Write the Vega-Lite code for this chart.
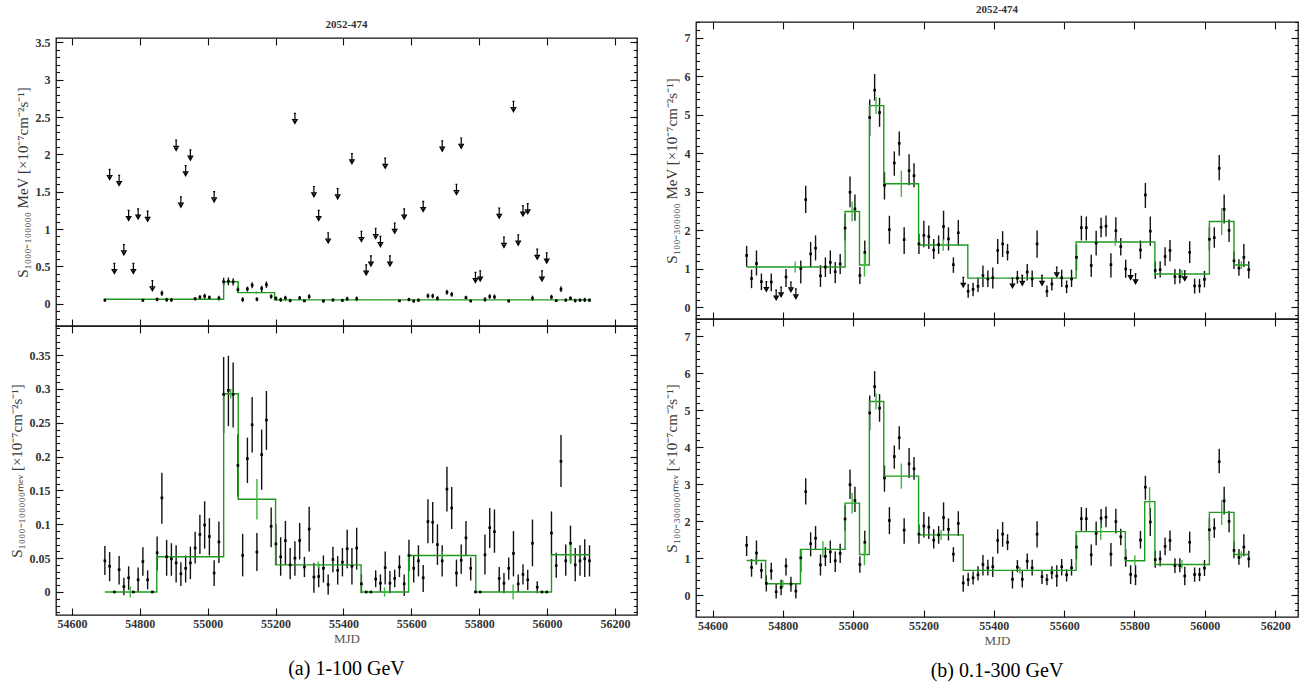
{
  "$schema": "https://vega.github.io/schema/vega-lite/v6.json",
  "background": "white",
  "padding": {"left": 8, "top": 3, "right": 4, "bottom": 4},
  "config": {
    "view": {"stroke": "#111", "strokeWidth": 1.3},
    "font": "Liberation Serif",
    "axis": {"grid": false, "domain": false, "tickColor": "#111", "tickWidth": 1.1,
             "labelFont": "Liberation Serif", "labelFontSize": 12, "labelFontWeight": "bold", "labelColor": "#333",
             "titleFont": "Liberation Serif", "titleFontWeight": "normal", "titleColor": "#3a3a3a", "titleFontSize": 15},
    "title": {"font": "Liberation Serif"}
  },
  "datasets": {
    "a1": [
      {"t":54697,"v":0.046,"lo":0.025,"hi":0.068},{"t":54711,"ul":1.80},{"t":54725,"ul":0.54},{"t":54739,"ul":1.72},
      {"t":54753,"ul":0.79},{"t":54767,"ul":1.25},{"t":54781,"ul":0.54},{"t":54795,"ul":1.27},
      {"t":54809,"v":0.045,"lo":0.024,"hi":0.066},{"t":54823,"ul":1.24},{"t":54837,"ul":0.31},
      {"t":54851,"v":0.058,"lo":0.032,"hi":0.082},{"t":54865,"v":0.139,"lo":0.101,"hi":0.176},
      {"t":54879,"v":0.052,"lo":0.024,"hi":0.077},{"t":54893,"v":0.049,"lo":0.024,"hi":0.072},
      {"t":54907,"ul":2.19},{"t":54921,"ul":1.43},{"t":54935,"ul":1.85},{"t":54949,"ul":2.06},
      {"t":54963,"v":0.065,"lo":0.042,"hi":0.089},{"t":54977,"v":0.085,"lo":0.056,"hi":0.114},
      {"t":54991,"v":0.099,"lo":0.064,"hi":0.134},{"t":55005,"v":0.082,"lo":0.054,"hi":0.109},
      {"t":55019,"ul":1.50},{"t":55033,"v":0.074,"lo":0.043,"hi":0.104},
      {"t":55047,"v":0.292,"lo":0.235,"hi":0.347},{"t":55061,"v":0.298,"lo":0.245,"hi":0.349},
      {"t":55075,"v":0.292,"lo":0.243,"hi":0.339},{"t":55089,"v":0.187,"lo":0.141,"hi":0.233},
      {"t":55103,"v":0.054,"lo":0.023,"hi":0.086},{"t":55117,"v":0.197,"lo":0.161,"hi":0.228},
      {"t":55131,"v":0.247,"lo":0.206,"hi":0.288},{"t":55145,"v":0.059,"lo":0.031,"hi":0.087},
      {"t":55159,"v":0.203,"lo":0.151,"hi":0.240},{"t":55173,"v":0.254,"lo":0.210,"hi":0.297},
      {"t":55187,"v":0.097,"lo":0.066,"hi":0.125},{"t":55201,"v":0.071,"lo":0.040,"hi":0.100},
      {"t":55215,"v":0.052,"lo":0.024,"hi":0.081},{"t":55229,"v":0.076,"lo":0.040,"hi":0.105},
      {"t":55243,"v":0.040,"lo":0.019,"hi":0.065},{"t":55257,"ul":2.55},
      {"t":55271,"v":0.076,"lo":0.048,"hi":0.102},{"t":55285,"v":0.037,"lo":0.022,"hi":0.052},
      {"t":55299,"v":0.093,"lo":0.060,"hi":0.126},{"t":55313,"ul":1.57},{"t":55327,"ul":1.25},
      {"t":55341,"v":0.035,"lo":0.014,"hi":0.054},{"t":55355,"ul":0.95},
      {"t":55369,"v":0.048,"lo":0.029,"hi":0.067},{"t":55383,"ul":1.54},
      {"t":55397,"v":0.044,"lo":0.023,"hi":0.065},{"t":55411,"v":0.064,"lo":0.035,"hi":0.092},
      {"t":55425,"ul":2.01},{"t":55439,"v":0.065,"lo":0.033,"hi":0.095},
      {"t":55453,"ul":0.97},{"t":55467,"ul":0.52},{"t":55481,"ul":0.64},{"t":55495,"ul":1.01},
      {"t":55509,"ul":0.90},{"t":55523,"ul":1.95},{"t":55537,"ul":0.64},{"t":55551,"ul":1.08},
      {"t":55565,"v":0.037,"lo":0.022,"hi":0.054},{"t":55579,"ul":1.27},
      {"t":55593,"v":0.054,"lo":0.031,"hi":0.077},{"t":55607,"v":0.035,"lo":0.014,"hi":0.054},
      {"t":55621,"v":0.046,"lo":0.023,"hi":0.069},{"t":55635,"ul":1.37},
      {"t":55649,"v":0.104,"lo":0.072,"hi":0.137},{"t":55663,"v":0.103,"lo":0.072,"hi":0.133},
      {"t":55677,"v":0.070,"lo":0.040,"hi":0.100},{"t":55691,"ul":2.18},
      {"t":55705,"v":0.152,"lo":0.119,"hi":0.185},{"t":55719,"v":0.124,"lo":0.093,"hi":0.155},
      {"t":55733,"ul":1.60},{"t":55747,"ul":2.22},
      {"t":55761,"v":0.080,"lo":0.054,"hi":0.105},{"t":55775,"v":0.035,"lo":0.017,"hi":0.051},
      {"t":55789,"ul":0.42},{"t":55803,"ul":0.44},
      {"t":55817,"v":0.055,"lo":0.026,"hi":0.085},{"t":55831,"v":0.095,"lo":0.065,"hi":0.124},
      {"t":55845,"v":0.089,"lo":0.058,"hi":0.122},{"t":55859,"ul":1.28},{"t":55873,"ul":0.89},
      {"t":55887,"v":0.035,"lo":0.018,"hi":0.051},{"t":55901,"ul":2.71},{"t":55915,"ul":0.92},
      {"t":55929,"ul":1.31},{"t":55943,"ul":1.34},{"t":55957,"v":0.072,"lo":0.038,"hi":0.107},
      {"t":55971,"ul":0.73},{"t":55985,"ul":0.44},{"t":55999,"ul":0.68},
      {"t":56013,"v":0.087,"lo":0.053,"hi":0.119},{"t":56027,"v":0.039,"lo":0.021,"hi":0.058},
      {"t":56041,"v":0.193,"lo":0.155,"hi":0.232},{"t":56055,"v":0.046,"lo":0.024,"hi":0.070},
      {"t":56069,"v":0.072,"lo":0.043,"hi":0.098},{"t":56083,"v":0.040,"lo":0.016,"hi":0.065},
      {"t":56097,"v":0.046,"lo":0.024,"hi":0.069},{"t":56111,"v":0.049,"lo":0.022,"hi":0.078},
      {"t":56125,"v":0.046,"lo":0.023,"hi":0.069}
    ],
    "a1g": [{"t":54697,"v":0.058},{"t":55047,"v":0.294},{"t":55090,"v":0.147},{"t":55197,"v":0.050},{"t":56125,"v":0.050}],
    "a1e": [{"t":55143,"lo":0.128,"hi":0.166}],
    "a2": [
      {"t":54697,"v":0.046,"lo":0.025,"hi":0.068},{"t":54711,"v":0.038,"lo":0.016,"hi":0.059},{"t":54725,"v":0},
      {"t":54739,"v":0.033,"lo":0.011,"hi":0.053},{"t":54753,"v":0.008,"lo":-0.005,"hi":0.021},
      {"t":54767,"v":0.021,"lo":0.003,"hi":0.038},{"t":54781,"v":0},{"t":54795,"v":0.018,"lo":0.000,"hi":0.036},
      {"t":54809,"v":0.045,"lo":0.024,"hi":0.066},{"t":54823,"v":0.018,"lo":0.004,"hi":0.032},{"t":54837,"v":0},
      {"t":54851,"v":0.058,"lo":0.032,"hi":0.082},{"t":54865,"v":0.139,"lo":0.101,"hi":0.176},
      {"t":54879,"v":0.052,"lo":0.024,"hi":0.077},{"t":54893,"v":0.049,"lo":0.024,"hi":0.072},
      {"t":54907,"v":0.043,"lo":0.014,"hi":0.069},{"t":54921,"v":0.027,"lo":0.009,"hi":0.044},
      {"t":54935,"v":0.035,"lo":0.014,"hi":0.054},{"t":54949,"v":0.043,"lo":0.019,"hi":0.067},
      {"t":54963,"v":0.065,"lo":0.042,"hi":0.089},{"t":54977,"v":0.085,"lo":0.056,"hi":0.114},
      {"t":54991,"v":0.099,"lo":0.064,"hi":0.134},{"t":55005,"v":0.082,"lo":0.054,"hi":0.109},
      {"t":55019,"v":0.028,"lo":0.009,"hi":0.047},{"t":55033,"v":0.074,"lo":0.043,"hi":0.104},
      {"t":55047,"v":0.292,"lo":0.235,"hi":0.347},{"t":55061,"v":0.298,"lo":0.245,"hi":0.349},
      {"t":55075,"v":0.292,"lo":0.243,"hi":0.339},{"t":55089,"v":0.187,"lo":0.141,"hi":0.233},
      {"t":55103,"v":0.054,"lo":0.023,"hi":0.086},{"t":55117,"v":0.197,"lo":0.161,"hi":0.228},
      {"t":55131,"v":0.247,"lo":0.206,"hi":0.288},{"t":55145,"v":0.059,"lo":0.031,"hi":0.087},
      {"t":55159,"v":0.203,"lo":0.151,"hi":0.240},{"t":55173,"v":0.254,"lo":0.210,"hi":0.297},
      {"t":55187,"v":0.097,"lo":0.066,"hi":0.125},{"t":55201,"v":0.071,"lo":0.040,"hi":0.100},
      {"t":55215,"v":0.052,"lo":0.024,"hi":0.081},{"t":55229,"v":0.076,"lo":0.040,"hi":0.105},
      {"t":55243,"v":0.040,"lo":0.019,"hi":0.065},{"t":55257,"v":0.050,"lo":0.024,"hi":0.075},
      {"t":55271,"v":0.076,"lo":0.048,"hi":0.102},{"t":55285,"v":0.037,"lo":0.022,"hi":0.052},
      {"t":55299,"v":0.093,"lo":0.060,"hi":0.126},{"t":55313,"v":0.022,"lo":-0.001,"hi":0.043},
      {"t":55327,"v":0.023,"lo":0.007,"hi":0.041},{"t":55341,"v":0.035,"lo":0.014,"hi":0.054},
      {"t":55355,"v":0.011,"lo":-0.004,"hi":0.026},{"t":55369,"v":0.048,"lo":0.029,"hi":0.067},
      {"t":55383,"v":0.032,"lo":0.011,"hi":0.053},{"t":55397,"v":0.044,"lo":0.023,"hi":0.065},
      {"t":55411,"v":0.064,"lo":0.035,"hi":0.092},{"t":55425,"v":0.038,"lo":0.011,"hi":0.065},
      {"t":55439,"v":0.065,"lo":0.033,"hi":0.095},{"t":55453,"v":0.012,"lo":-0.002,"hi":0.026},
      {"t":55467,"v":0},{"t":55481,"v":0},{"t":55495,"v":0.019,"lo":0.007,"hi":0.032},
      {"t":55509,"v":0.013,"lo":0.000,"hi":0.026},{"t":55523,"v":0.036,"lo":0.011,"hi":0.060},
      {"t":55537,"v":0.013,"lo":-0.002,"hi":0.031},{"t":55551,"v":0.020,"lo":0.007,"hi":0.033},
      {"t":55565,"v":0.037,"lo":0.022,"hi":0.054},{"t":55579,"v":0.012,"lo":-0.006,"hi":0.026},
      {"t":55593,"v":0.054,"lo":0.031,"hi":0.077},{"t":55607,"v":0.035,"lo":0.014,"hi":0.054},
      {"t":55621,"v":0.046,"lo":0.023,"hi":0.069},{"t":55635,"v":0.021,"lo":0.000,"hi":0.040},
      {"t":55649,"v":0.104,"lo":0.072,"hi":0.137},{"t":55663,"v":0.103,"lo":0.072,"hi":0.133},
      {"t":55677,"v":0.070,"lo":0.040,"hi":0.100},{"t":55691,"v":0.046,"lo":0.023,"hi":0.069},
      {"t":55705,"v":0.152,"lo":0.119,"hi":0.185},{"t":55719,"v":0.124,"lo":0.093,"hi":0.155},
      {"t":55733,"v":0.028,"lo":0.008,"hi":0.048},{"t":55747,"v":0.047,"lo":0.027,"hi":0.070},
      {"t":55761,"v":0.080,"lo":0.054,"hi":0.105},{"t":55775,"v":0.035,"lo":0.017,"hi":0.051},
      {"t":55789,"v":0},{"t":55803,"v":0},
      {"t":55817,"v":0.055,"lo":0.026,"hi":0.085},{"t":55831,"v":0.095,"lo":0.065,"hi":0.124},
      {"t":55845,"v":0.089,"lo":0.058,"hi":0.122},{"t":55859,"v":0.020,"lo":0.000,"hi":0.037},
      {"t":55873,"v":0.013,"lo":-0.002,"hi":0.028},{"t":55887,"v":0.035,"lo":0.018,"hi":0.051},
      {"t":55901,"v":0.057,"lo":0.023,"hi":0.090},{"t":55915,"v":0.012,"lo":0.000,"hi":0.026},
      {"t":55929,"v":0.026,"lo":0.011,"hi":0.041},{"t":55943,"v":0.018,"lo":0.003,"hi":0.033},
      {"t":55957,"v":0.072,"lo":0.038,"hi":0.107},{"t":55971,"v":0.007,"lo":-0.002,"hi":0.016},
      {"t":55985,"v":0},{"t":55999,"v":0},
      {"t":56013,"v":0.087,"lo":0.053,"hi":0.119},{"t":56027,"v":0.039,"lo":0.021,"hi":0.058},
      {"t":56041,"v":0.193,"lo":0.155,"hi":0.232},{"t":56055,"v":0.046,"lo":0.024,"hi":0.070},
      {"t":56069,"v":0.072,"lo":0.043,"hi":0.098},{"t":56083,"v":0.040,"lo":0.016,"hi":0.065},
      {"t":56097,"v":0.046,"lo":0.024,"hi":0.069},{"t":56111,"v":0.049,"lo":0.022,"hi":0.078},
      {"t":56125,"v":0.046,"lo":0.023,"hi":0.069}
    ],
    "a2g": [{"t":54697,"v":0},{"t":54850,"v":0.052},{"t":55047,"v":0.293},{"t":55090,"v":0.137},{"t":55200,"v":0.040},
            {"t":55452,"v":0},{"t":55592,"v":0.054},{"t":55790,"v":0},{"t":56013,"v":0.055},{"t":56125,"v":0.055}],
    "a2e": [{"t":54772,"lo":-0.008,"hi":0.008},{"t":55068,"lo":0.286,"hi":0.300},{"t":55145,"lo":0.107,"hi":0.167},
            {"t":55326,"lo":0.035,"hi":0.045},{"t":55521,"lo":-0.007,"hi":0.007},{"t":55690,"lo":0.048,"hi":0.060},
            {"t":55900,"lo":-0.011,"hi":0.011},{"t":56070,"lo":0.041,"hi":0.069}],
    "b1": [
      {"t":54697,"v":1.35,"lo":1.06,"hi":1.60},{"t":54711,"v":0.75,"lo":0.50,"hi":0.98},{"t":54725,"v":1.14,"lo":0.83,"hi":1.48},
      {"t":54739,"v":0.67,"lo":0.45,"hi":0.88},{"t":54753,"ul":0.67},{"t":54767,"v":0.66,"lo":0.42,"hi":0.88},
      {"t":54781,"ul":0.45},{"t":54795,"ul":0.53},{"t":54809,"v":0.79,"lo":0.53,"hi":1.00},{"t":54823,"ul":0.66},
      {"t":54837,"ul":0.48},{"t":54851,"v":1.01,"lo":0.62,"hi":1.22},{"t":54865,"v":2.80,"lo":2.45,"hi":3.16},
      {"t":54879,"v":1.39,"lo":1.05,"hi":1.70},{"t":54893,"v":1.54,"lo":1.22,"hi":1.87},{"t":54907,"v":0.82,"lo":0.53,"hi":1.10},
      {"t":54921,"v":1.05,"lo":0.79,"hi":1.30},{"t":54935,"v":1.17,"lo":0.87,"hi":1.48},{"t":54949,"v":0.93,"lo":0.63,"hi":1.18},
      {"t":54963,"v":1.13,"lo":0.87,"hi":1.39},{"t":54977,"v":2.06,"lo":1.74,"hi":2.43},{"t":54991,"v":2.99,"lo":2.60,"hi":3.40},
      {"t":55005,"v":2.56,"lo":2.25,"hi":2.93},{"t":55019,"v":0.83,"lo":0.61,"hi":1.05},{"t":55033,"v":1.43,"lo":1.13,"hi":1.74},
      {"t":55047,"v":4.93,"lo":4.46,"hi":5.40},{"t":55061,"v":5.64,"lo":5.37,"hi":6.06},{"t":55075,"v":5.06,"lo":4.69,"hi":5.44},
      {"t":55089,"v":3.17,"lo":2.80,"hi":3.51},{"t":55103,"v":2.02,"lo":1.65,"hi":2.38},{"t":55117,"v":3.75,"lo":3.42,"hi":4.05},
      {"t":55131,"v":4.26,"lo":3.94,"hi":4.57},{"t":55145,"v":1.76,"lo":1.39,"hi":2.08},{"t":55159,"v":3.55,"lo":3.17,"hi":3.98},
      {"t":55173,"v":3.42,"lo":3.12,"hi":3.74},{"t":55187,"v":1.65,"lo":1.39,"hi":1.91},{"t":55201,"v":1.87,"lo":1.56,"hi":2.25},
      {"t":55215,"v":1.84,"lo":1.52,"hi":2.13},{"t":55229,"v":1.49,"lo":1.26,"hi":1.78},{"t":55243,"v":1.63,"lo":1.39,"hi":1.87},
      {"t":55257,"v":2.10,"lo":1.74,"hi":2.51},{"t":55271,"v":1.78,"lo":1.48,"hi":2.08},{"t":55285,"v":1.11,"lo":0.90,"hi":1.30},
      {"t":55299,"v":1.94,"lo":1.60,"hi":2.27},{"t":55313,"ul":0.78},{"t":55327,"v":0.42,"lo":0.25,"hi":0.61},
      {"t":55341,"v":0.47,"lo":0.29,"hi":0.64},{"t":55355,"v":0.55,"lo":0.40,"hi":0.78},{"t":55369,"v":0.83,"lo":0.53,"hi":1.09},
      {"t":55383,"v":0.74,"lo":0.53,"hi":0.96},{"t":55397,"v":0.77,"lo":0.49,"hi":1.04},{"t":55411,"v":1.48,"lo":1.13,"hi":1.78},
      {"t":55425,"v":1.65,"lo":1.31,"hi":1.98},{"t":55439,"v":1.43,"lo":1.22,"hi":1.65},{"t":55453,"ul":0.76},
      {"t":55467,"v":0.76,"lo":0.62,"hi":0.95},{"t":55481,"ul":0.83},{"t":55495,"v":0.92,"lo":0.70,"hi":1.13},
      {"t":55509,"v":0.74,"lo":0.53,"hi":0.96},{"t":55523,"v":1.65,"lo":1.29,"hi":2.00},{"t":55537,"ul":0.83},
      {"t":55551,"v":0.42,"lo":0.27,"hi":0.57},{"t":55565,"v":0.61,"lo":0.44,"hi":0.78},{"t":55579,"ul":1.05},
      {"t":55593,"v":0.77,"lo":0.53,"hi":0.98},{"t":55607,"v":0.55,"lo":0.37,"hi":0.70},{"t":55621,"v":0.74,"lo":0.53,"hi":0.98},
      {"t":55635,"v":1.30,"lo":0.96,"hi":1.63},{"t":55649,"v":2.07,"lo":1.74,"hi":2.38},{"t":55663,"v":2.07,"lo":1.74,"hi":2.36},
      {"t":55677,"v":1.09,"lo":0.80,"hi":1.37},{"t":55691,"v":1.67,"lo":1.35,"hi":1.99},{"t":55705,"v":2.08,"lo":1.82,"hi":2.33},
      {"t":55719,"v":2.11,"lo":1.84,"hi":2.39},{"t":55733,"v":1.11,"lo":0.78,"hi":1.41},{"t":55747,"v":1.99,"lo":1.67,"hi":2.34},
      {"t":55761,"v":1.58,"lo":1.35,"hi":1.80},{"t":55775,"v":1.00,"lo":0.77,"hi":1.24},{"t":55789,"ul":0.98},
      {"t":55803,"ul":0.87},{"t":55817,"v":1.49,"lo":1.26,"hi":1.74},{"t":55831,"v":2.92,"lo":2.58,"hi":3.23},
      {"t":55845,"v":1.98,"lo":1.60,"hi":2.36},{"t":55859,"v":0.96,"lo":0.74,"hi":1.20},{"t":55873,"v":0.98,"lo":0.78,"hi":1.20},
      {"t":55887,"v":1.32,"lo":1.08,"hi":1.56},{"t":55901,"v":1.48,"lo":1.20,"hi":1.75},{"t":55915,"v":0.80,"lo":0.60,"hi":1.00},
      {"t":55929,"v":0.80,"lo":0.62,"hi":1.00},{"t":55943,"ul":0.95},{"t":55957,"v":1.43,"lo":1.15,"hi":1.72},
      {"t":55971,"v":0.56,"lo":0.36,"hi":0.75},{"t":55985,"v":0.56,"lo":0.38,"hi":0.74},{"t":55999,"v":0.73,"lo":0.52,"hi":0.95},
      {"t":56013,"v":1.77,"lo":1.47,"hi":2.08},{"t":56027,"v":1.81,"lo":1.55,"hi":2.08},{"t":56041,"v":3.61,"lo":3.30,"hi":3.96},
      {"t":56055,"v":2.55,"lo":2.18,"hi":2.93},{"t":56069,"v":2.00,"lo":1.70,"hi":2.28},{"t":56083,"v":1.21,"lo":1.00,"hi":1.45},
      {"t":56097,"v":1.02,"lo":0.82,"hi":1.25},{"t":56111,"v":1.30,"lo":1.05,"hi":1.65},{"t":56125,"v":0.98,"lo":0.75,"hi":1.20}
    ],
    "b1g": [{"t":54697,"v":1.05},{"t":54977,"v":2.49},{"t":55018,"v":1.10},{"t":55046,"v":5.24},{"t":55087,"v":3.21},
            {"t":55186,"v":1.62},{"t":55326,"v":0.76},{"t":55634,"v":1.70},{"t":55858,"v":0.87},{"t":56013,"v":2.23},
            {"t":56083,"v":1.10},{"t":56125,"v":1.10}],
    "b1e": [{"t":54835,"lo":0.91,"hi":1.19},{"t":54997,"lo":2.23,"hi":2.75},{"t":55032,"lo":0.80,"hi":1.40},
            {"t":55065,"lo":5.02,"hi":5.46},{"t":55137,"lo":2.87,"hi":3.55},{"t":55256,"lo":1.47,"hi":1.77},
            {"t":55480,"lo":0.71,"hi":0.81},{"t":55745,"lo":1.60,"hi":1.80},{"t":55935,"lo":0.77,"hi":0.97},
            {"t":56048,"lo":1.88,"hi":2.58},{"t":56104,"lo":1.00,"hi":1.20}],
    "b2": [
      {"t":54697,"v":1.35,"lo":1.06,"hi":1.60},{"t":54711,"v":0.75,"lo":0.50,"hi":0.98},{"t":54725,"v":1.14,"lo":0.83,"hi":1.48},
      {"t":54739,"v":0.67,"lo":0.45,"hi":0.88},{"t":54753,"v":0.32,"lo":0.10,"hi":0.54},{"t":54767,"v":0.66,"lo":0.42,"hi":0.88},
      {"t":54781,"v":0.09,"lo":-0.09,"hi":0.32},{"t":54795,"v":0.21,"lo":0.00,"hi":0.42},{"t":54809,"v":0.79,"lo":0.53,"hi":1.00},
      {"t":54823,"v":0.30,"lo":0.09,"hi":0.50},{"t":54837,"v":0.11,"lo":-0.09,"hi":0.32},{"t":54851,"v":1.01,"lo":0.62,"hi":1.22},
      {"t":54865,"v":2.80,"lo":2.45,"hi":3.16},{"t":54879,"v":1.39,"lo":1.05,"hi":1.70},{"t":54893,"v":1.54,"lo":1.22,"hi":1.87},
      {"t":54907,"v":0.82,"lo":0.53,"hi":1.10},{"t":54921,"v":1.05,"lo":0.79,"hi":1.30},{"t":54935,"v":1.17,"lo":0.87,"hi":1.48},
      {"t":54949,"v":0.93,"lo":0.63,"hi":1.18},{"t":54963,"v":1.13,"lo":0.87,"hi":1.39},{"t":54977,"v":2.06,"lo":1.74,"hi":2.43},
      {"t":54991,"v":2.99,"lo":2.60,"hi":3.40},{"t":55005,"v":2.56,"lo":2.25,"hi":2.93},{"t":55019,"v":0.83,"lo":0.61,"hi":1.05},
      {"t":55033,"v":1.43,"lo":1.13,"hi":1.74},{"t":55047,"v":4.93,"lo":4.46,"hi":5.40},{"t":55061,"v":5.64,"lo":5.37,"hi":6.06},
      {"t":55075,"v":5.06,"lo":4.69,"hi":5.44},{"t":55089,"v":3.17,"lo":2.80,"hi":3.51},{"t":55103,"v":2.02,"lo":1.65,"hi":2.38},
      {"t":55117,"v":3.75,"lo":3.42,"hi":4.05},{"t":55131,"v":4.26,"lo":3.94,"hi":4.57},{"t":55145,"v":1.76,"lo":1.39,"hi":2.08},
      {"t":55159,"v":3.55,"lo":3.17,"hi":3.98},{"t":55173,"v":3.42,"lo":3.12,"hi":3.74},{"t":55187,"v":1.65,"lo":1.39,"hi":1.91},
      {"t":55201,"v":1.87,"lo":1.56,"hi":2.25},{"t":55215,"v":1.84,"lo":1.52,"hi":2.13},{"t":55229,"v":1.49,"lo":1.26,"hi":1.78},
      {"t":55243,"v":1.63,"lo":1.39,"hi":1.87},{"t":55257,"v":2.10,"lo":1.74,"hi":2.51},{"t":55271,"v":1.78,"lo":1.48,"hi":2.08},
      {"t":55285,"v":1.11,"lo":0.90,"hi":1.30},{"t":55299,"v":1.94,"lo":1.60,"hi":2.27},{"t":55313,"v":0.33,"lo":0.09,"hi":0.54},
      {"t":55327,"v":0.42,"lo":0.25,"hi":0.61},{"t":55341,"v":0.47,"lo":0.29,"hi":0.64},{"t":55355,"v":0.55,"lo":0.40,"hi":0.78},
      {"t":55369,"v":0.83,"lo":0.53,"hi":1.09},{"t":55383,"v":0.74,"lo":0.53,"hi":0.96},{"t":55397,"v":0.77,"lo":0.49,"hi":1.04},
      {"t":55411,"v":1.48,"lo":1.13,"hi":1.78},{"t":55425,"v":1.65,"lo":1.31,"hi":1.98},{"t":55439,"v":1.43,"lo":1.22,"hi":1.65},
      {"t":55453,"v":0.43,"lo":0.18,"hi":0.68},{"t":55467,"v":0.76,"lo":0.62,"hi":0.95},{"t":55481,"v":0.43,"lo":0.21,"hi":0.68},
      {"t":55495,"v":0.92,"lo":0.70,"hi":1.13},{"t":55509,"v":0.74,"lo":0.53,"hi":0.96},{"t":55523,"v":1.65,"lo":1.29,"hi":2.00},
      {"t":55537,"v":0.50,"lo":0.30,"hi":0.68},{"t":55551,"v":0.42,"lo":0.27,"hi":0.57},{"t":55565,"v":0.61,"lo":0.44,"hi":0.78},
      {"t":55579,"v":0.52,"lo":0.23,"hi":0.81},{"t":55593,"v":0.77,"lo":0.53,"hi":0.98},{"t":55607,"v":0.55,"lo":0.37,"hi":0.70},
      {"t":55621,"v":0.74,"lo":0.53,"hi":0.98},{"t":55635,"v":1.30,"lo":0.96,"hi":1.63},{"t":55649,"v":2.07,"lo":1.74,"hi":2.38},
      {"t":55663,"v":2.07,"lo":1.74,"hi":2.36},{"t":55677,"v":1.09,"lo":0.80,"hi":1.37},{"t":55691,"v":1.67,"lo":1.35,"hi":1.99},
      {"t":55705,"v":2.08,"lo":1.82,"hi":2.33},{"t":55719,"v":2.11,"lo":1.84,"hi":2.39},{"t":55733,"v":1.11,"lo":0.78,"hi":1.41},
      {"t":55747,"v":1.99,"lo":1.67,"hi":2.34},{"t":55761,"v":1.58,"lo":1.35,"hi":1.80},{"t":55775,"v":1.00,"lo":0.77,"hi":1.24},
      {"t":55789,"v":0.56,"lo":0.30,"hi":0.81},{"t":55803,"v":0.52,"lo":0.27,"hi":0.81},{"t":55817,"v":1.49,"lo":1.26,"hi":1.74},
      {"t":55831,"v":2.92,"lo":2.58,"hi":3.23},{"t":55845,"v":1.98,"lo":1.60,"hi":2.36},{"t":55859,"v":0.96,"lo":0.74,"hi":1.20},
      {"t":55873,"v":0.98,"lo":0.78,"hi":1.20},{"t":55887,"v":1.32,"lo":1.08,"hi":1.56},{"t":55901,"v":1.48,"lo":1.20,"hi":1.75},
      {"t":55915,"v":0.80,"lo":0.60,"hi":1.00},{"t":55929,"v":0.80,"lo":0.62,"hi":1.00},{"t":55943,"v":0.52,"lo":0.27,"hi":0.77},
      {"t":55957,"v":1.43,"lo":1.15,"hi":1.72},{"t":55971,"v":0.56,"lo":0.36,"hi":0.75},{"t":55985,"v":0.56,"lo":0.38,"hi":0.74},
      {"t":55999,"v":0.73,"lo":0.52,"hi":0.95},{"t":56013,"v":1.77,"lo":1.47,"hi":2.08},{"t":56027,"v":1.81,"lo":1.55,"hi":2.08},
      {"t":56041,"v":3.61,"lo":3.30,"hi":3.96},{"t":56055,"v":2.55,"lo":2.18,"hi":2.93},{"t":56069,"v":2.00,"lo":1.70,"hi":2.28},
      {"t":56083,"v":1.21,"lo":1.00,"hi":1.45},{"t":56097,"v":1.02,"lo":0.82,"hi":1.25},{"t":56111,"v":1.30,"lo":1.05,"hi":1.65},
      {"t":56125,"v":0.98,"lo":0.75,"hi":1.20}
    ],
    "b2g": [{"t":54697,"v":0.94},{"t":54751,"v":0.31},{"t":54850,"v":1.24},{"t":54977,"v":2.49},{"t":55018,"v":1.10},
            {"t":55046,"v":5.24},{"t":55087,"v":3.22},{"t":55186,"v":1.63},{"t":55313,"v":0.67},{"t":55634,"v":1.72},
            {"t":55774,"v":0.93},{"t":55829,"v":2.53},{"t":55858,"v":0.83},{"t":56013,"v":2.24},{"t":56083,"v":1.10},
            {"t":56125,"v":1.10}],
    "b2e": [{"t":54723,"lo":0.82,"hi":1.06},{"t":54800,"lo":0.21,"hi":0.41},{"t":54914,"lo":1.02,"hi":1.46},
            {"t":54997,"lo":2.21,"hi":2.77},{"t":55032,"lo":0.81,"hi":1.40},{"t":55065,"lo":5.02,"hi":5.46},
            {"t":55137,"lo":2.88,"hi":3.56},{"t":55250,"lo":1.49,"hi":1.77},{"t":55474,"lo":0.58,"hi":0.76},
            {"t":55704,"lo":1.50,"hi":1.94},{"t":55801,"lo":0.81,"hi":1.08},{"t":55843,"lo":2.13,"hi":2.92},
            {"t":55935,"lo":0.72,"hi":0.95},{"t":56048,"lo":1.90,"hi":2.58},{"t":56104,"lo":1.01,"hi":1.19}]
  },
  "spacing": 24,
  "hconcat": [
    {
      "spacing": 0,
      "bounds": "flush",
      "vconcat": [
        {
          "width": 581, "height": 16,
          "view": {"stroke": null},
          "data": {"values": [{}]},
          "mark": {"type": "point", "opacity": 0},
          "encoding": {}
        },
        {
          "width": 581, "height": 288,
          "title": {"text": "2052-474", "fontSize": 11, "fontWeight": "bold", "offset": 6, "color": "#333"},
          "resolve": {"scale": {"x": "shared", "y": "shared"}, "axis": {"x": "independent", "y": "independent"}},
          "layer": [
            {
              "data": {"name": "a1"},
              "transform": [{"filter": "isValid(datum.lo)"}],
              "mark": {"type": "rule", "color": "#111", "strokeWidth": 1.4},
              "encoding": {
                "x": {"field": "t", "type": "quantitative", "scale": {"domain": [54553, 56265], "nice": false, "zero": false},
                      "axis": {"orient": "bottom", "values": [54600,54800,55000,55200,55400,55600,55800,56000,56200], "tickSize": -7, "labels": false, "title": null}},
                "y": {"field": "lo", "type": "quantitative", "scale": {"domain": [-0.3, 3.56], "nice": false, "zero": false},
                      "axis": {"orient": "left", "values": [0,0.5,1,1.5,2,2.5,3,3.5], "format": "~g", "tickSize": -7, "labelPadding": 13,
                               "title": "S₁₀₀₀₋₁₀₀₀₀₀ MeV  [×10⁻⁷cm⁻²s⁻¹]", "titlePadding": 5}},
                "y2": {"field": "hi"}
              }
            },
            {
              "data": {"name": "a1g"},
              "mark": {"type": "line", "interpolate": "step-after", "color": "#1f9a1f", "strokeWidth": 1.4},
              "encoding": {
                "x": {"field": "t", "type": "quantitative", "axis": null},
                "y": {"field": "v", "type": "quantitative",
                      "axis": {"orient": "right", "values": [0,0.5,1,1.5,2,2.5,3,3.5], "tickSize": -7, "labels": false, "title": null}}
              }
            },
            {
              "data": {"name": "a1e"},
              "mark": {"type": "rule", "color": "#3fb53f", "strokeWidth": 1.4},
              "encoding": {
                "x": {"field": "t", "type": "quantitative", "axis": null},
                "y": {"field": "lo", "type": "quantitative",
                      "axis": {"orient": "right", "values": [-0.2,-0.1,0,0.1,0.2,0.3,0.4,0.5,0.6,0.7,0.8,0.9,1,1.1,1.2,1.3,1.4,1.5,1.6,1.7,1.8,1.9,2,2.1,2.2,2.3,2.4,2.5,2.6,2.7,2.8,2.9,3,3.1,3.2,3.3,3.4,3.5], "tickSize": -3.5, "labels": false, "title": null}},
                "y2": {"field": "hi"}
              }
            },
            {
              "data": {"name": "a1"},
              "transform": [{"filter": "isValid(datum.v)"}],
              "mark": {"type": "square", "color": "#000", "size": 7, "opacity": 1},
              "encoding": {
                "x": {"field": "t", "type": "quantitative",
                      "axis": {"orient": "top", "values": [54600,54800,55000,55200,55400,55600,55800,56000,56200], "tickSize": -7, "labels": false, "title": null}},
                "y": {"field": "v", "type": "quantitative",
                      "axis": {"orient": "left", "values": [-0.2,-0.1,0,0.1,0.2,0.3,0.4,0.5,0.6,0.7,0.8,0.9,1,1.1,1.2,1.3,1.4,1.5,1.6,1.7,1.8,1.9,2,2.1,2.2,2.3,2.4,2.5,2.6,2.7,2.8,2.9,3,3.1,3.2,3.3,3.4,3.5], "tickSize": -3.5, "labels": false, "title": null}}
              }
            },
            {
              "data": {"name": "a1"},
              "transform": [{"filter": "isValid(datum.ul)"}],
              "mark": {"type": "point", "shape": "M0,0V2M-0.45,1.25L0.45,1.25L0,2.05Z M-0.2,0H0.2", "size": 100, "filled": false, "stroke": "#000", "strokeWidth": 1.2, "opacity": 1},
              "encoding": {
                "x": {"field": "t", "type": "quantitative", "axis": null},
                "y": {"field": "ul", "type": "quantitative", "axis": null}
              }
            }
          ]
        },
        {
          "width": 581, "height": 289,
          "title": {"text": "(a) 1-100 GeV", "orient": "bottom", "fontSize": 20, "fontWeight": "normal", "offset": 14, "color": "#000"},
          "resolve": {"scale": {"x": "shared", "y": "shared"}, "axis": {"x": "independent", "y": "independent"}},
          "layer": [
            {
              "data": {"name": "a2"},
              "transform": [{"filter": "isValid(datum.lo)"}],
              "mark": {"type": "rule", "color": "#111", "strokeWidth": 1.4},
              "encoding": {
                "x": {"field": "t", "type": "quantitative", "scale": {"domain": [54553, 56265], "nice": false, "zero": false},
                      "axis": {"orient": "bottom", "values": [54600,54800,55000,55200,55400,55600,55800,56000,56200], "format": "d", "tickSize": -7, "labelPadding": 10,
                               "title": "MJD", "titlePadding": 3, "titleColor": "#555", "titleFontSize": 13}},
                "y": {"field": "lo", "type": "quantitative", "scale": {"domain": [-0.034, 0.393], "nice": false, "zero": false},
                      "axis": {"orient": "left", "values": [0,0.05,0.1,0.15,0.2,0.25,0.3,0.35], "format": "~g", "tickSize": -7, "labelPadding": 13,
                               "title": "S₁₀₀₀₋₁₀₀₀₀₀ₘₑᵥ  [×10⁻⁷cm⁻²s⁻¹]", "titlePadding": 5}},
                "y2": {"field": "hi"}
              }
            },
            {
              "data": {"name": "a2g"},
              "mark": {"type": "line", "interpolate": "step-after", "color": "#1f9a1f", "strokeWidth": 1.4},
              "encoding": {
                "x": {"field": "t", "type": "quantitative", "axis": null},
                "y": {"field": "v", "type": "quantitative",
                      "axis": {"orient": "right", "values": [0,0.05,0.1,0.15,0.2,0.25,0.3,0.35], "tickSize": -7, "labels": false, "title": null}}
              }
            },
            {
              "data": {"name": "a2e"},
              "mark": {"type": "rule", "color": "#3fb53f", "strokeWidth": 1.4},
              "encoding": {
                "x": {"field": "t", "type": "quantitative", "axis": null},
                "y": {"field": "lo", "type": "quantitative",
                      "axis": {"orient": "right", "values": [-0.03,-0.02,-0.01,0,0.01,0.02,0.03,0.04,0.05,0.06,0.07,0.08,0.09,0.1,0.11,0.12,0.13,0.14,0.15,0.16,0.17,0.18,0.19,0.2,0.21,0.22,0.23,0.24,0.25,0.26,0.27,0.28,0.29,0.3,0.31,0.32,0.33,0.34,0.35,0.36,0.37,0.38,0.39], "tickSize": -3.5, "labels": false, "title": null}},
                "y2": {"field": "hi"}
              }
            },
            {
              "data": {"name": "a2"},
              "mark": {"type": "square", "color": "#000", "size": 7, "opacity": 1},
              "encoding": {
                "x": {"field": "t", "type": "quantitative",
                      "axis": {"orient": "top", "values": [54600,54800,55000,55200,55400,55600,55800,56000,56200], "tickSize": -7, "labels": false, "title": null}},
                "y": {"field": "v", "type": "quantitative",
                      "axis": {"orient": "left", "values": [-0.03,-0.02,-0.01,0,0.01,0.02,0.03,0.04,0.05,0.06,0.07,0.08,0.09,0.1,0.11,0.12,0.13,0.14,0.15,0.16,0.17,0.18,0.19,0.2,0.21,0.22,0.23,0.24,0.25,0.26,0.27,0.28,0.29,0.3,0.31,0.32,0.33,0.34,0.35,0.36,0.37,0.38,0.39], "tickSize": -3.5, "labels": false, "title": null}}
              }
            }
          ]
        }
      ]
    },
    {
      "spacing": 0,
      "bounds": "flush",
      "vconcat": [
        {
          "width": 602, "height": 297,
          "title": {"text": "2052-474", "fontSize": 11, "fontWeight": "bold", "offset": 6, "color": "#333"},
          "resolve": {"scale": {"x": "shared", "y": "shared"}, "axis": {"x": "independent", "y": "independent"}},
          "layer": [
            {
              "data": {"name": "b1"},
              "transform": [{"filter": "isValid(datum.lo)"}],
              "mark": {"type": "rule", "color": "#111", "strokeWidth": 1.4},
              "encoding": {
                "x": {"field": "t", "type": "quantitative", "scale": {"domain": [54553, 56265], "nice": false, "zero": false},
                      "axis": {"orient": "bottom", "values": [54600,54800,55000,55200,55400,55600,55800,56000,56200], "tickSize": -7, "labels": false, "title": null}},
                "y": {"field": "lo", "type": "quantitative", "scale": {"domain": [-0.3, 7.41], "nice": false, "zero": false},
                      "axis": {"orient": "left", "values": [0,1,2,3,4,5,6,7], "format": "~g", "tickSize": -7, "labelPadding": 13,
                               "title": "S₁₀₀₋₃₀₀₀₀₀ MeV  [×10⁻⁷cm⁻²s⁻¹]", "titlePadding": 5}},
                "y2": {"field": "hi"}
              }
            },
            {
              "data": {"name": "b1g"},
              "mark": {"type": "line", "interpolate": "step-after", "color": "#1f9a1f", "strokeWidth": 1.4},
              "encoding": {
                "x": {"field": "t", "type": "quantitative", "axis": null},
                "y": {"field": "v", "type": "quantitative",
                      "axis": {"orient": "right", "values": [0,1,2,3,4,5,6,7], "tickSize": -7, "labels": false, "title": null}}
              }
            },
            {
              "data": {"name": "b1e"},
              "mark": {"type": "rule", "color": "#3fb53f", "strokeWidth": 1.4},
              "encoding": {
                "x": {"field": "t", "type": "quantitative", "axis": null},
                "y": {"field": "lo", "type": "quantitative",
                      "axis": {"orient": "right", "values": [-0.2,0,0.2,0.4,0.6,0.8,1,1.2,1.4,1.6,1.8,2,2.2,2.4,2.6,2.8,3,3.2,3.4,3.6,3.8,4,4.2,4.4,4.6,4.8,5,5.2,5.4,5.6,5.8,6,6.2,6.4,6.6,6.8,7,7.2,7.4], "tickSize": -3.5, "labels": false, "title": null}},
                "y2": {"field": "hi"}
              }
            },
            {
              "data": {"name": "b1"},
              "transform": [{"filter": "isValid(datum.v)"}],
              "mark": {"type": "square", "color": "#000", "size": 7, "opacity": 1},
              "encoding": {
                "x": {"field": "t", "type": "quantitative",
                      "axis": {"orient": "top", "values": [54600,54800,55000,55200,55400,55600,55800,56000,56200], "tickSize": -7, "labels": false, "title": null}},
                "y": {"field": "v", "type": "quantitative",
                      "axis": {"orient": "left", "values": [-0.2,0,0.2,0.4,0.6,0.8,1,1.2,1.4,1.6,1.8,2,2.2,2.4,2.6,2.8,3,3.2,3.4,3.6,3.8,4,4.2,4.4,4.6,4.8,5,5.2,5.4,5.6,5.8,6,6.2,6.4,6.6,6.8,7,7.2,7.4], "tickSize": -3.5, "labels": false, "title": null}}
              }
            },
            {
              "data": {"name": "b1"},
              "transform": [{"filter": "isValid(datum.ul)"}],
              "mark": {"type": "point", "shape": "M0,0V2M-0.45,1.25L0.45,1.25L0,2.05Z M-0.2,0H0.2", "size": 90, "filled": false, "stroke": "#000", "strokeWidth": 1.2, "opacity": 1},
              "encoding": {
                "x": {"field": "t", "type": "quantitative", "axis": null},
                "y": {"field": "ul", "type": "quantitative", "axis": null}
              }
            }
          ]
        },
        {
          "width": 602, "height": 298,
          "title": {"text": "(b) 0.1-300 GeV", "orient": "bottom", "fontSize": 20, "fontWeight": "normal", "offset": 14, "color": "#000"},
          "resolve": {"scale": {"x": "shared", "y": "shared"}, "axis": {"x": "independent", "y": "independent"}},
          "layer": [
            {
              "data": {"name": "b2"},
              "transform": [{"filter": "isValid(datum.lo)"}],
              "mark": {"type": "rule", "color": "#111", "strokeWidth": 1.4},
              "encoding": {
                "x": {"field": "t", "type": "quantitative", "scale": {"domain": [54553, 56265], "nice": false, "zero": false},
                      "axis": {"orient": "bottom", "values": [54600,54800,55000,55200,55400,55600,55800,56000,56200], "format": "d", "tickSize": -7, "labelPadding": 10,
                               "title": "MJD", "titlePadding": 3, "titleColor": "#555", "titleFontSize": 13}},
                "y": {"field": "lo", "type": "quantitative", "scale": {"domain": [-0.59, 7.47], "nice": false, "zero": false},
                      "axis": {"orient": "left", "values": [0,1,2,3,4,5,6,7], "format": "~g", "tickSize": -7, "labelPadding": 13,
                               "title": "S₁₀₀₋₃₀₀₀₀₀ₘₑᵥ  [×10⁻⁷cm⁻²s⁻¹]", "titlePadding": 5}},
                "y2": {"field": "hi"}
              }
            },
            {
              "data": {"name": "b2g"},
              "mark": {"type": "line", "interpolate": "step-after", "color": "#1f9a1f", "strokeWidth": 1.4},
              "encoding": {
                "x": {"field": "t", "type": "quantitative", "axis": null},
                "y": {"field": "v", "type": "quantitative",
                      "axis": {"orient": "right", "values": [0,1,2,3,4,5,6,7], "tickSize": -7, "labels": false, "title": null}}
              }
            },
            {
              "data": {"name": "b2e"},
              "mark": {"type": "rule", "color": "#3fb53f", "strokeWidth": 1.4},
              "encoding": {
                "x": {"field": "t", "type": "quantitative", "axis": null},
                "y": {"field": "lo", "type": "quantitative",
                      "axis": {"orient": "right", "values": [-0.4,-0.2,0,0.2,0.4,0.6,0.8,1,1.2,1.4,1.6,1.8,2,2.2,2.4,2.6,2.8,3,3.2,3.4,3.6,3.8,4,4.2,4.4,4.6,4.8,5,5.2,5.4,5.6,5.8,6,6.2,6.4,6.6,6.8,7,7.2,7.4], "tickSize": -3.5, "labels": false, "title": null}},
                "y2": {"field": "hi"}
              }
            },
            {
              "data": {"name": "b2"},
              "mark": {"type": "square", "color": "#000", "size": 7, "opacity": 1},
              "encoding": {
                "x": {"field": "t", "type": "quantitative",
                      "axis": {"orient": "top", "values": [54600,54800,55000,55200,55400,55600,55800,56000,56200], "tickSize": -7, "labels": false, "title": null}},
                "y": {"field": "v", "type": "quantitative",
                      "axis": {"orient": "left", "values": [-0.4,-0.2,0,0.2,0.4,0.6,0.8,1,1.2,1.4,1.6,1.8,2,2.2,2.4,2.6,2.8,3,3.2,3.4,3.6,3.8,4,4.2,4.4,4.6,4.8,5,5.2,5.4,5.6,5.8,6,6.2,6.4,6.6,6.8,7,7.2,7.4], "tickSize": -3.5, "labels": false, "title": null}}
              }
            }
          ]
        }
      ]
    }
  ]
}
